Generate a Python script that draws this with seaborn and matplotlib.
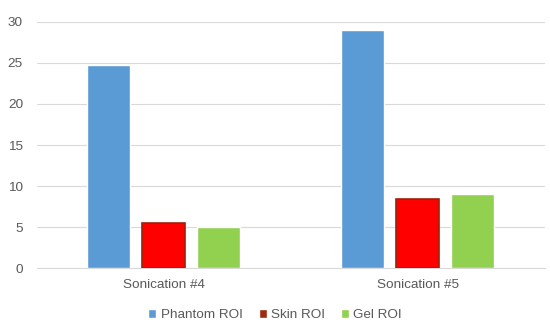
import pandas as pd
import matplotlib.pyplot as plt
import seaborn as sns
from matplotlib.patches import Patch

# Values
groups = ['Sonication #4', 'Sonication #5']
series = ['Phantom ROI', 'Skin ROI', 'Gel ROI']
phantom = [24.8, 29.0]
skin = [5.5, 8.4]
gel = [5.0, 9.0]

colors = {'Phantom ROI': '#5B9BD5', 'Skin ROI': '#FF0000', 'Gel ROI': '#92D050'}
legend_colors = {'Phantom ROI': '#5B9BD5', 'Skin ROI': '#9E2A0F', 'Gel ROI': '#92D050'}

df = pd.DataFrame({
    'group': groups * 3,
    'series': [s for s in series for _ in groups],
    'value': phantom + skin + gel,
})

sns.set_style('white')
plt.rcParams['font.family'] = ['Liberation Sans', 'DejaVu Sans']

fig = plt.figure(figsize=(5.5, 3.27), dpi=100)
ax = fig.add_axes([0.067, 0.18, 0.923, 0.753])

sns.barplot(data=df, x='group', y='value', hue='series', hue_order=series,
            palette=colors, width=0.65, gap=0.22, ax=ax, legend=False,
            saturation=1, errorbar=None, zorder=3)

# skin bars have a dark red rim in the original
for bar in ax.containers[1]:
    bar.set_edgecolor('#A0200A')
    bar.set_linewidth(1.2)

ax.set_ylim(0, 30)
ax.set_yticks(range(0, 31, 5))
ax.yaxis.grid(True, color='#D9D9D9', linewidth=0.8, zorder=0)
ax.set_xlim(-0.5, 1.5)
for s in ['top', 'right', 'left']:
    ax.spines[s].set_visible(False)
ax.spines['bottom'].set_color('#D9D9D9')
ax.set_xlabel('')
ax.set_ylabel('')
ax.tick_params(axis='both', length=0, colors='#595959', labelsize=9.7)
ax.tick_params(axis='y', pad=10)
ax.tick_params(axis='x', pad=8)

handles = [Patch(facecolor=legend_colors[s], label=s) for s in series]
fig.legend(handles=handles, loc='lower center', bbox_to_anchor=(0.5, -0.02),
           ncol=3, frameon=False, fontsize=9.7, handlelength=0.6, handleheight=0.6,
           handletextpad=0.3, columnspacing=1.2, labelcolor='#595959')

fig.savefig('out.png', dpi=100)
